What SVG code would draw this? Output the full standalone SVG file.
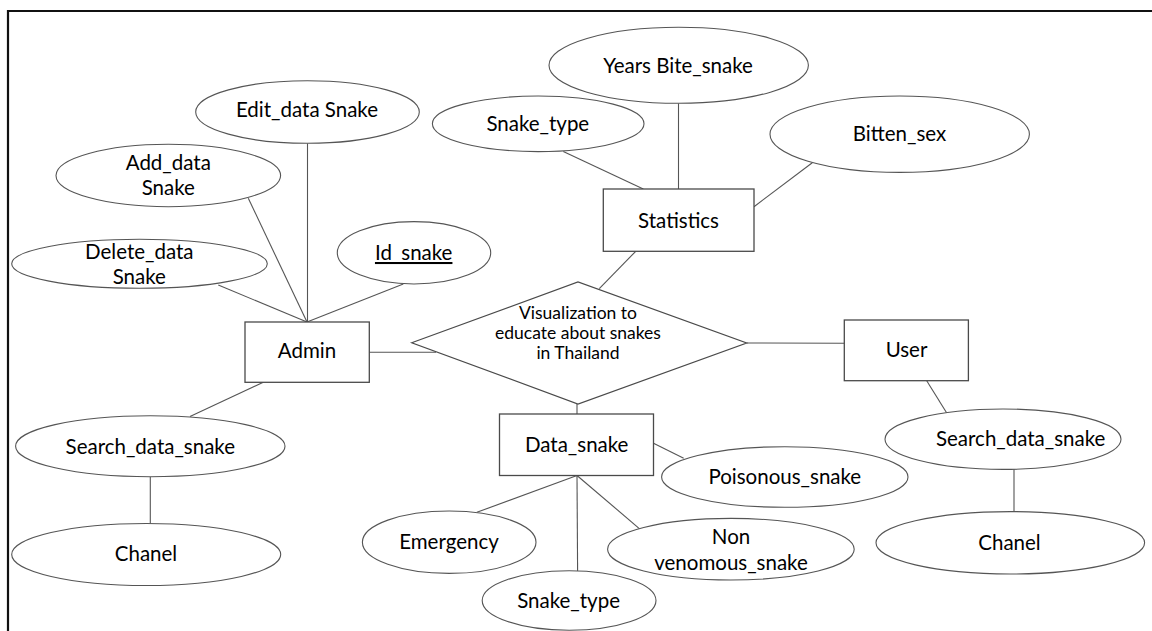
<svg xmlns="http://www.w3.org/2000/svg" width="1152" height="631" viewBox="0 0 1152 631">
  <style>
    .frame { stroke: #111; stroke-width: 2.2; fill: none; }
    .ent { fill: #fff; stroke: #4a4a4a; stroke-width: 1.3; }
    .attr { fill: #fff; stroke: #555; stroke-width: 1.1; }
    .rel { fill: #fff; stroke: #4a4a4a; stroke-width: 1.2; }
    .link { stroke: #555; stroke-width: 1.1; fill: none; }
    text { font-family: Lato, "Open Sans", "Liberation Sans", sans-serif; font-size: 20.5px; fill: #000; text-anchor: middle; }
    .small { font-size: 17.5px; }
    .key { text-decoration: underline; }
  </style>

  <rect width="1152" height="631" fill="#fff"/>
  <!-- page frame (top and left edges) -->
  <path class="frame" d="M8,631 V11 H1152"/>

  <!-- connectors -->
  <g id="connectors">
    <line class="link" x1="307.5" y1="143.3" x2="307.5" y2="322"/>
    <line class="link" x1="248.3" y1="198.3" x2="307" y2="322"/>
    <line class="link" x1="218.3" y1="285" x2="307" y2="322"/>
    <line class="link" x1="403.3" y1="284" x2="307" y2="322"/>
    <line class="link" x1="369.3" y1="352.3" x2="436" y2="352.3"/>
    <line class="link" x1="263.3" y1="382.3" x2="190" y2="416.5"/>
    <line class="link" x1="150.3" y1="476.5" x2="150.3" y2="523.5"/>
    <line class="link" x1="678.5" y1="103.3" x2="678.5" y2="189"/>
    <line class="link" x1="563.3" y1="151.5" x2="643.3" y2="189"/>
    <line class="link" x1="754" y1="206.7" x2="812.3" y2="162.7"/>
    <line class="link" x1="635.7" y1="251.3" x2="599.3" y2="288.7"/>
    <line class="link" x1="746.7" y1="343" x2="844.3" y2="343.3"/>
    <line class="link" x1="577" y1="404" x2="577" y2="414"/>
    <line class="link" x1="926.7" y1="380.7" x2="946.9" y2="413.3"/>
    <line class="link" x1="1014" y1="469" x2="1014" y2="512"/>
    <line class="link" x1="653.5" y1="443.3" x2="683.7" y2="458.3"/>
    <line class="link" x1="577" y1="475.5" x2="476.9" y2="512.3"/>
    <line class="link" x1="577" y1="475.5" x2="577.6" y2="571"/>
    <line class="link" x1="577" y1="475.5" x2="640.2" y2="529.3"/>
  </g>

  <!-- relationship -->
  <g id="visualization">
    <polygon class="rel" points="411.7,342.7 578,282 746.7,343 578,404"/>
    <text class="small" x="578" y="318.5">Visualization to</text>
    <text class="small" x="578" y="338.5">educate about snakes</text>
    <text class="small" x="578" y="358.5">in Thailand</text>
  </g>

  <!-- entities -->
  <g id="admin">
    <rect class="ent" x="245" y="322" width="124.3" height="60.3"/>
    <text x="307" y="358">Admin</text>
  </g>
  <g id="statistics">
    <rect class="ent" x="603.3" y="189" width="150.7" height="62.3"/>
    <text x="678.5" y="228">Statistics</text>
  </g>
  <g id="user">
    <rect class="ent" x="844.3" y="320" width="124.1" height="60.7"/>
    <text x="906.5" y="357">User</text>
  </g>
  <g id="data-snake">
    <rect class="ent" x="499.5" y="414" width="154" height="61.5"/>
    <text x="576.7" y="452">Data_snake</text>
  </g>

  <!-- Admin attributes -->
  <g id="edit-data-snake">
    <ellipse class="attr" cx="307.5" cy="112" rx="111.8" ry="31.3"/>
    <text x="307" y="117">Edit_data Snake</text>
  </g>
  <g id="add-data-snake">
    <ellipse class="attr" cx="168.3" cy="175.5" rx="112.3" ry="31.2"/>
    <text x="168.3" y="169.5">Add_data</text>
    <text x="168.3" y="195">Snake</text>
  </g>
  <g id="delete-data-snake">
    <ellipse class="attr" cx="139.5" cy="263.8" rx="127.8" ry="24.5"/>
    <text x="139.3" y="258.5">Delete_data</text>
    <text x="139.3" y="284">Snake</text>
  </g>
  <g id="id-snake">
    <ellipse class="attr" cx="414" cy="252.8" rx="76.7" ry="31.2"/>
    <text class="key" x="413.7" y="260">Id_snake</text>
  </g>
  <g id="admin-search">
    <ellipse class="attr" cx="150.3" cy="446.2" rx="134.7" ry="30.5"/>
    <text x="150.3" y="453.5">Search_data_snake</text>
  </g>
  <g id="admin-chanel">
    <ellipse class="attr" cx="146.2" cy="554.5" rx="134.5" ry="31"/>
    <text x="146" y="561">Chanel</text>
  </g>

  <!-- Statistics attributes -->
  <g id="years-bite-snake">
    <ellipse class="attr" cx="678.7" cy="65.3" rx="129.7" ry="38"/>
    <text x="678" y="73">Years Bite_snake</text>
  </g>
  <g id="stat-snake-type">
    <ellipse class="attr" cx="538.2" cy="123.8" rx="105.8" ry="27.8"/>
    <text x="537.8" y="131">Snake_type</text>
  </g>
  <g id="bitten-sex">
    <ellipse class="attr" cx="899.7" cy="134.2" rx="129.7" ry="38.2"/>
    <text x="899.5" y="141">Bitten_sex</text>
  </g>

  <!-- User attributes -->
  <g id="user-search">
    <ellipse class="attr" cx="1003" cy="439.2" rx="118" ry="30.2"/>
    <text x="1020.7" y="446">Search_data_snake</text>
  </g>
  <g id="user-chanel">
    <ellipse class="attr" cx="1010.3" cy="542.8" rx="134.3" ry="31.2"/>
    <text x="1009.5" y="549.5">Chanel</text>
  </g>

  <!-- Data_snake attributes -->
  <g id="poisonous-snake">
    <ellipse class="attr" cx="784.8" cy="477" rx="123.2" ry="30.3"/>
    <text x="784.8" y="484">Poisonous_snake</text>
  </g>
  <g id="non-venomous-snake">
    <ellipse class="attr" cx="730.9" cy="549.2" rx="123.3" ry="30.8"/>
    <text x="731" y="543.5">Non</text>
    <text x="731" y="569.5">venomous_snake</text>
  </g>
  <g id="emergency">
    <ellipse class="attr" cx="449.2" cy="542.2" rx="86.8" ry="31.2"/>
    <text x="449" y="548.5">Emergency</text>
  </g>
  <g id="data-snake-type">
    <ellipse class="attr" cx="569.1" cy="600.5" rx="86.9" ry="29.8"/>
    <text x="568.6" y="607.5">Snake_type</text>
  </g>
</svg>
